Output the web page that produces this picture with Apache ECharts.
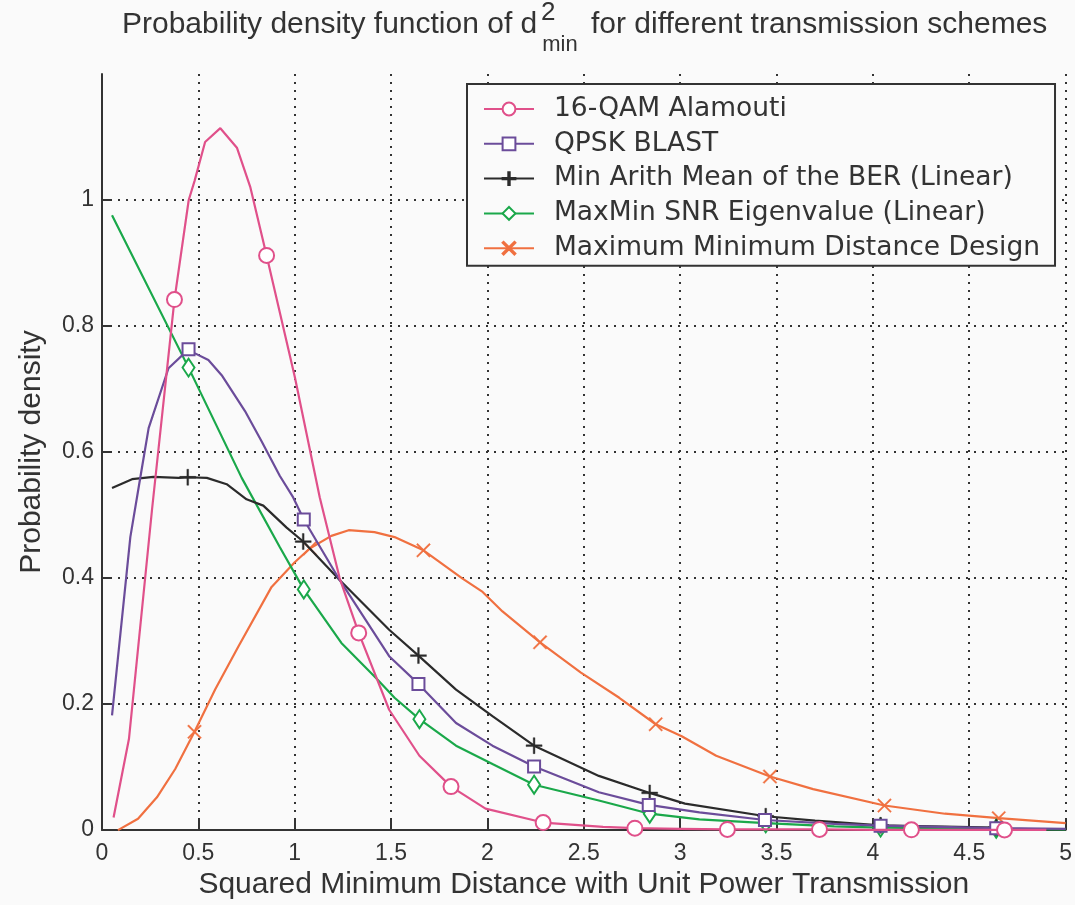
<!DOCTYPE html>
<html>
<head>
    <meta charset="UTF-8">
    <title>pdf of d2min</title>
    <script src="https://cdn.jsdelivr.net/npm/echarts@6/dist/echarts.min.js"></script>
    <style>
        html, body { margin: 0; padding: 0; background: #fafafa; }
        #main { width: 1075px; height: 905px; }
    </style>
</head>
<body>
<div id="main"></div>
<script type="text/javascript">
    // series names (legend order)
    var names = ['16-QAM Alamouti', 'QPSK BLAST', 'Min Arith Mean of the BER (Linear)',
        'MaxMin SNR Eigenvalue (Linear)', 'Maximum Minimum Distance Design'];

    // 16-QAM Alamouti: line vertices and marker points
    var qamX = [0.06, 0.14, 0.26, 0.45, 0.48, 0.535, 0.614, 0.70, 0.77, 1.0, 1.13, 1.233, 1.49, 1.647, 1.99, 2.6, 3.0, 3.5, 4.0, 4.9];
    var qamY = [0.02, 0.145, 0.51, 1.0, 1.03, 1.092, 1.114, 1.083, 1.02, 0.72, 0.528, 0.40, 0.191, 0.118, 0.034, 0.005, 0.002, 0.001, 0.0005, 0.0003];
    var qamMX = [0.376, 0.854, 1.332, 1.811, 2.289, 2.765, 3.245, 3.723, 4.2, 4.683];
    var qamMY = [0.842, 0.912, 0.313, 0.069, 0.012, 0.003, 0.001, 0.001, 0.0005, 0.0003];

    // QPSK BLAST
    var blastX = [0.052, 0.147, 0.199, 0.242, 0.345, 0.48, 0.552, 0.621, 0.742, 0.828, 0.923, 0.992, 1.233, 1.49, 1.837, 2.026, 2.578, 3.1, 3.8, 5.0];
    var blastY = [0.182, 0.465, 0.56, 0.638, 0.733, 0.757, 0.746, 0.722, 0.665, 0.617, 0.562, 0.528, 0.397, 0.276, 0.170, 0.134, 0.060, 0.028, 0.010, 0.002];
    var blastMX = [0.449, 1.047, 1.642, 2.242, 2.837, 3.44, 4.04, 4.64];
    var blastMY = [0.763, 0.493, 0.232, 0.101, 0.040, 0.016, 0.007, 0.003];

    // Min Arith Mean of the BER (Linear)
    var berX = [0.052, 0.156, 0.267, 0.397, 0.544, 0.647, 0.75, 0.837, 0.958, 1.233, 1.49, 1.837, 2.026, 2.578, 3.025, 3.7, 4.7];
    var berY = [0.543, 0.557, 0.5605, 0.559, 0.559, 0.549, 0.525, 0.515, 0.48, 0.397, 0.318, 0.223, 0.181, 0.086, 0.042, 0.015, 0.004];
    var berMX = [0.445, 1.044, 1.642, 2.242, 2.842, 3.444, 4.04, 4.64];
    var berMY = [0.56, 0.458, 0.277, 0.134, 0.059, 0.022, 0.0075, 0.004];

    // MaxMin SNR Eigenvalue (Linear)
    var snrX = [0.052, 0.725, 0.923, 1.242, 1.423, 1.518, 1.837, 2.026, 2.578, 3.1, 3.8, 5.0];
    var snrY = [0.976, 0.559, 0.449, 0.297, 0.241, 0.21, 0.134, 0.105, 0.047, 0.017, 0.006, 0.001];
    var snrMX = [0.449, 1.047, 1.647, 2.242, 2.842, 3.444, 4.04, 4.64];
    var snrMY = [0.734, 0.382, 0.176, 0.072, 0.026, 0.011, 0.004, 0.002];

    // Maximum Minimum Distance Design
    var mmdX = [0.083, 0.187, 0.285, 0.38, 0.587, 0.707, 0.88, 1.0, 1.19, 1.28, 1.414, 1.518, 1.871, 1.975, 2.078, 2.485, 2.684, 3.008, 3.187, 3.69, 4.374, 5.0];
    var mmdY = [0.0, 0.018, 0.052, 0.097, 0.223, 0.291, 0.386, 0.425, 0.467, 0.476, 0.473, 0.465, 0.399, 0.378, 0.347, 0.25, 0.21, 0.149, 0.118, 0.065, 0.026, 0.011];
    var mmdMX = [0.48, 1.078, 1.668, 2.273, 2.873, 3.466, 4.06, 4.653];
    var mmdMY = [0.156, 0.447, 0.444, 0.298, 0.168, 0.085, 0.039, 0.019];

    var xTicks = [0, 0.5, 1, 1.5, 2, 2.5, 3, 3.5, 4, 4.5, 5];
    var yTicks = [0, 0.2, 0.4, 0.6, 0.8, 1];

    var colors = ['#e0508a', '#6b4c9a', '#2b2b2b', '#1aa84a', '#f07040'];
    var plusPath = 'path://M0,4.45H10V5.55H0Z M4.45,0H5.55V10H4.45Z';
    var crossPath = 'path://M0,0.8L0.8,0L10,9.2L9.2,10Z M9.2,0L10,0.8L0.8,10L0,9.2Z';
    var symbols = ['emptyCircle', 'emptyRect', plusPath, 'emptyDiamond', crossPath];
    var symbolSizes = [15, 12, 16, [12, 18], 14];
    var borderWidths = [1.8, 1.8, 0.4, 1.8, 0.4];

    // merge line vertices and markers into one sorted list
    function buildData(lx, ly, mx, my) {
        var pts = [];
        for (var i = 0; i < lx.length; i++) {
            pts.push({ value: [lx[i], ly[i]], symbol: 'none' });
        }
        for (var j = 0; j < mx.length; j++) {
            pts.push({ value: [mx[j], my[j]] });
        }
        pts.sort(function (a, b) { return a.value[0] - b.value[0]; });
        return pts;
    }

    var allData = [
        buildData(qamX, qamY, qamMX, qamMY),
        buildData(blastX, blastY, blastMX, blastMY),
        buildData(berX, berY, berMX, berMY),
        buildData(snrX, snrY, snrMX, snrMY),
        buildData(mmdX, mmdY, mmdMX, mmdMY)
    ];

    var series = [];
    for (var k = 0; k < names.length; k++) {
        series.push({
            name: names[k],
            type: 'line',
            data: allData[k],
            symbol: symbols[k],
            symbolSize: symbolSizes[k],
            showSymbol: true,
            showAllSymbol: true,
            animation: false,
            color: colors[k],
            lineStyle: { width: 2.2, color: colors[k] },
            itemStyle: { color: colors[k], borderColor: colors[k], borderWidth: borderWidths[k] },
            emphasis: { disabled: true },
            z: 10 - k
        });
    }

    var txt = '#333';
    var sans = 'Liberation Sans';
    var myChart = echarts.init(document.getElementById('main'));
    var option = {
        backgroundColor: '#fafafa',
        animation: false,
        title: [{
            text: '{a|Probability density function of d}{s|min}{a| for different transmission schemes}',
            left: 122,
            top: 10,
            padding: 0,
            textStyle: {
                fontWeight: 'normal',
                rich: {
                    a: { fontSize: 30, fontFamily: sans, fontWeight: 'normal', color: txt, lineHeight: 36, verticalAlign: 'top' },
                    s: { fontSize: 22, fontFamily: sans, fontWeight: 'normal', color: txt, lineHeight: 22, padding: [24, 5, 0, 5], verticalAlign: 'top' }
                }
            }
        }, {
            text: '2',
            left: 541,
            top: 0,
            padding: 0,
            textStyle: { fontSize: 26, fontFamily: sans, color: txt, fontWeight: 'normal' }
        }],
        legend: {
            data: names,
            orient: 'vertical',
            left: 467,
            top: 84,
            padding: [11.5, 15, 4, 16],
            itemGap: 7.8,
            itemWidth: 50,
            itemHeight: 16,
            backgroundColor: '#fafafa',
            borderColor: '#333',
            borderWidth: 2,
            borderRadius: 0,
            textStyle: {
                fontSize: 26.5,
                lineHeight: 26,
                fontFamily: 'DejaVu Sans',
                color: txt,
                padding: [0, 0, 0, 15]
            }
        },
        grid: { left: 102, right: 7, top: 74, bottom: 70 },
        xAxis: {
            type: 'value',
            min: xTicks[0],
            max: xTicks[xTicks.length - 1],
            interval: 0.5,
            name: 'Squared Minimum Distance with Unit Power Transmission',
            nameLocation: 'middle',
            nameGap: 37,
            nameTextStyle: { fontSize: 30, fontFamily: sans, color: txt },
            axisLine: { onZero: false, lineStyle: { color: '#333', width: 2 } },
            axisTick: { inside: true, length: 10, lineStyle: { color: '#333', width: 2 } },
            axisLabel: { fontSize: 23, fontFamily: sans, color: txt, margin: 12 },
            splitLine: { show: true, showMinLine: false, lineStyle: { color: '#333', width: 2, type: [2, 6] } }
        },
        yAxis: {
            type: 'value',
            min: yTicks[0],
            max: 1.2,
            interval: 0.2,
            name: 'Probability density',
            nameLocation: 'middle',
            nameGap: 55,
            nameTextStyle: { fontSize: 30, fontFamily: sans, color: txt },
            axisLine: { show: true, onZero: false, lineStyle: { color: '#333', width: 2 } },
            axisTick: { show: true, inside: true, length: 10, lineStyle: { color: '#333', width: 2 } },
            axisLabel: {
                fontSize: 23, fontFamily: sans, color: txt, margin: 8, showMaxLabel: false,
                formatter: function (v) { return yTicks.indexOf(Math.round(v * 10) / 10) >= 0 ? String(Math.round(v * 10) / 10) : ''; }
            },
            splitLine: { show: true, showMinLine: false, showMaxLine: false, lineStyle: { color: '#333', width: 2, type: [2, 6] } }
        },
        series: series
    };
    myChart.setOption(option);
</script>
</body>
</html>
